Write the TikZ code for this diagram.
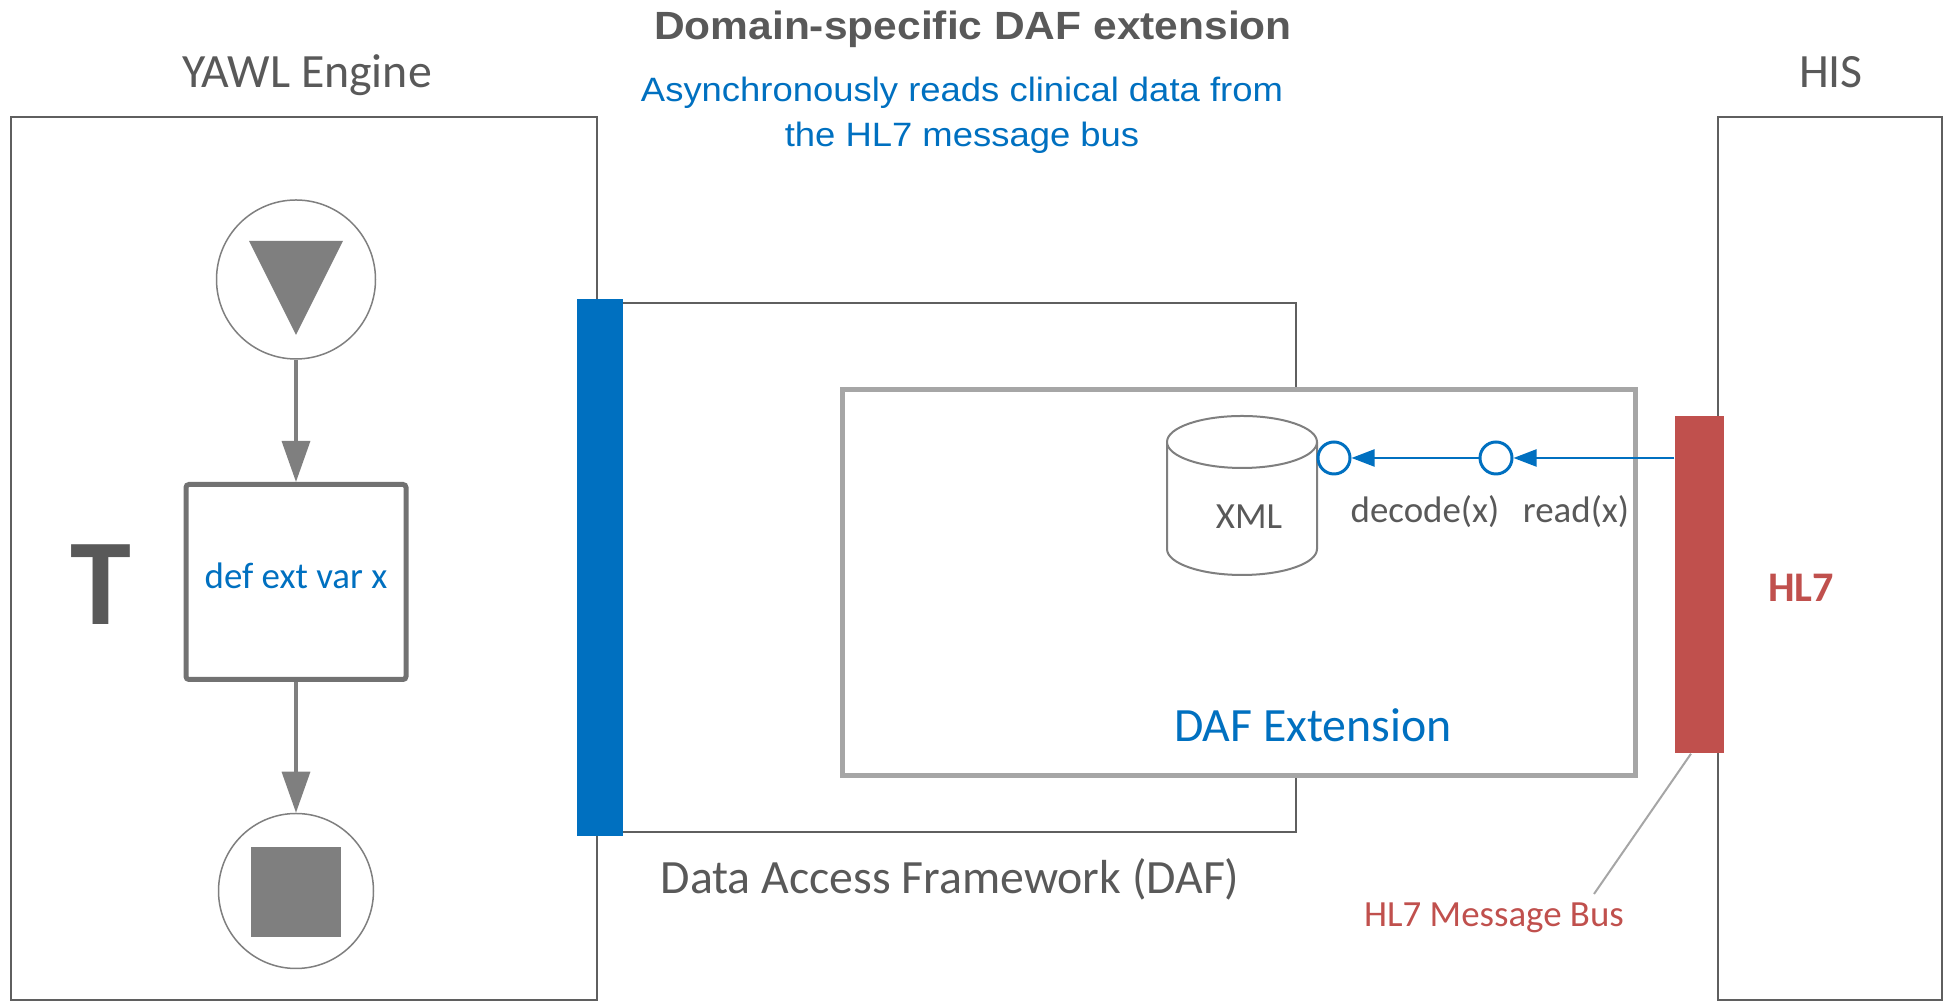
\documentclass[tikz,border=0pt]{standalone}
\usepackage{fontspec}
\setmainfont{Carlito}
\newfontfamily\arialfont[FakeStretch=1.08]{Liberation Sans}
\usetikzlibrary{arrows.meta}
\definecolor{darkgrey}{HTML}{595959}
\definecolor{midgrey}{HTML}{7F7F7F}
\definecolor{lightgrey}{HTML}{A6A6A6}
\definecolor{dafblue}{HTML}{0070C0}
\definecolor{hlred}{HTML}{C0504D}
\begin{document}
\begin{tikzpicture}[x=0.1mm, y=-0.1mm,
  frame/.style={draw=darkgrey!85!midgrey, line width=0.2mm},
  flow/.style={draw=midgrey, line width=0.33mm, -{Triangle[length=4.1mm, width=2.8mm]}},
  msg/.style={draw=dafblue, line width=0.22mm, -{Triangle[length=2.3mm, width=1.7mm]}},
  port/.style={circle, draw=dafblue, line width=0.3mm, fill=white, minimum size=3.2mm, inner sep=0pt},
  event/.style={circle, draw=midgrey, line width=0.15mm, fill=white, inner sep=0pt},
  txt/.style={anchor=base, inner sep=0pt, text=darkgrey},
  big/.style={font=\fontsize{13.6}{16}\selectfont},
  small/.style={font=\fontsize{10.5}{12.6}\selectfont}]
\useasboundingbox (0,0) rectangle (1946,1002);

% Frames
\draw[frame] (11,117) rectangle (597,1000);
\draw[frame] (1718,117) rectangle (1942,1000);
\draw[frame] (600,303) rectangle (1296,832);
\fill[dafblue] (577,299) rectangle (623,836);

% DAF extension
\draw[lightgrey, line width=0.5mm, fill=white] (842,390) rectangle (1635,776);

% XML store
\draw[midgrey, line width=0.2mm, fill=white] (1167,442) -- (1167,549)
  arc[start angle=180, end angle=360, x radius=7.5mm, y radius=2.6mm] -- (1317,442);
\draw[midgrey, line width=0.2mm, fill=white] (1242,442) ellipse[x radius=7.5mm, y radius=2.6mm];

% Ports
\node[port] (decport) at (1334,458) {};
\node[port] (readport) at (1496,458) {};

% HL7 bus
\node[fill=hlred, minimum width=4.9mm, minimum height=33.7mm, inner sep=0pt] (bus) at (1699.5,584.5) {};
\draw[msg] (readport -| bus.west) -- (readport);
\draw[msg] (readport) -- (decport);
\coordinate (busend) at (1594,894);
\draw[lightgrey, line width=0.2mm] ([xshift=-0.85mm]bus.south) -- (busend);

% Workflow
\node[event, minimum size=15.9mm] (start) at (296,279.5) {};
\fill[midgrey] (249,241) -- (343,241) -- (296,335) -- cycle;
\node[draw=midgrey!90!black, line width=0.5mm, rounded corners=0.3mm,
  minimum width=22mm, minimum height=19.5mm] (task) at (296,582) {};
\node[event, minimum size=15.5mm] (finish) at (296,891) {};
\fill[midgrey] (251,847) rectangle (341,937);
\draw[flow] (start) -- (task);
\draw[flow] (task) -- (finish);

% Labels
\node[txt, font=\arialfont\bfseries\fontsize{11.2}{13}\selectfont] (title) at (973,40) {Domain-specific DAF extension};
\node[txt, text=dafblue, font=\arialfont\fontsize{9.6}{12}\selectfont] (note1) at (962,102) {Asynchronously reads clinical data from};
\node[txt, text=dafblue, font=\arialfont\fontsize{9.6}{12}\selectfont] (note2) at (962,147) {the HL7 message bus};
\node[txt, big] (yawllbl) at (307,88) {YAWL Engine};
\node[txt, big] (hislbl) at (1831,88) {HIS};
\node[txt, font=\bfseries\fontsize{35}{40}\selectfont] (tlbl) at (101,625) {T};
\node[txt, small, text=dafblue] (varlbl) at (296,589) {def ext var x};
\node[txt, small] (xmllbl) at (1249,529) {XML};
\node[txt, small] (declbl) at (1425,523) {decode(x)};
\node[txt, small] (readlbl) at (1576,523) {read(x)};
\node[txt, big, text=dafblue] (extlbl) at (1313,742) {DAF Extension};
\node[txt, text=hlred, font=\bfseries\fontsize{12}{14}\selectfont] (hl7lbl) at (1801,602) {HL7};
\node[txt, big] (daflbl) at (950,894) {Data Access Framework (DAF)};
\node[txt, small, text=hlred] (buslbl) at (1494,927) {HL7 Message Bus};
\end{tikzpicture}
\end{document}
